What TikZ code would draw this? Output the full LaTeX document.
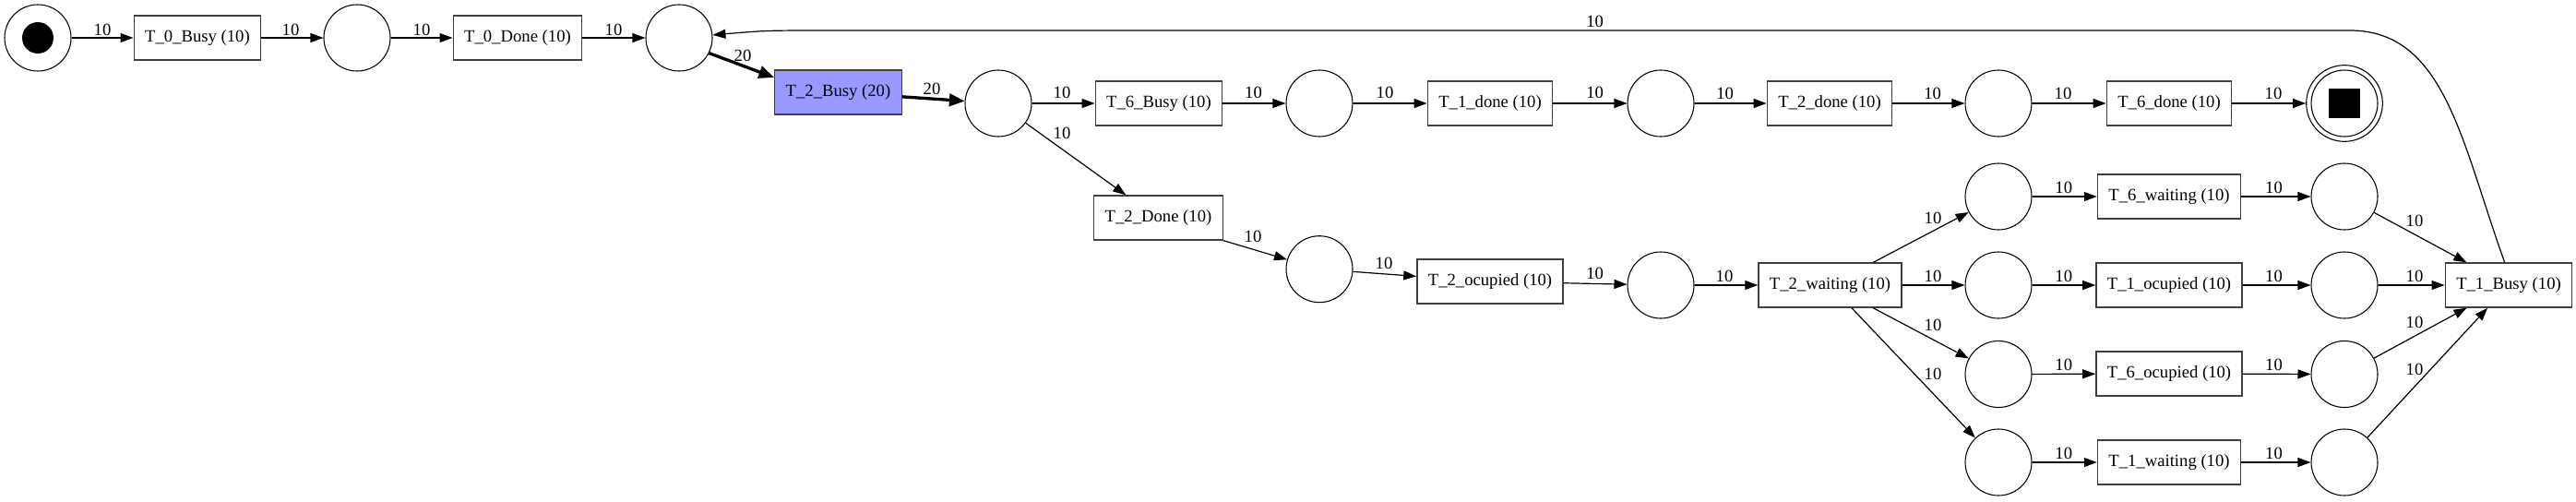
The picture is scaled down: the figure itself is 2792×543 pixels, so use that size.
\documentclass[tikz,border=0pt]{standalone}
\usepackage{fontspec}
\setmainfont{Liberation Serif}
\usetikzlibrary{arrows.meta}
\definecolor{busyfill}{HTML}{9999FF}
\begin{document}
\begin{tikzpicture}[x=0.75pt,y=-0.75pt,
  every node/.style={font=\fontsize{14pt}{16pt}\selectfont},
  place/.style={circle,draw=black,line width=0.8pt,minimum size=54pt,inner sep=0pt},
  trans/.style={rectangle,draw=black!75,line width=1pt,minimum width=101pt,minimum height=36pt,inner xsep=9pt,inner ysep=0pt},
  arc/.style={-{Triangle[length=10.5pt,width=7.5pt]},line width=0.9pt},
  heavy/.style={-{Triangle[length=12.5pt,width=10pt]},line width=2.5pt},
  lbl/.style={inner sep=0pt,anchor=center}
]
\useasboundingbox (0,0) rectangle (2792,543);

% places and transitions
\node[place] (start) at (41,41) {};
\node[circle,fill=black,minimum size=25.5pt,inner sep=0pt] (starttok) at (start) {};
\node[trans] (t0b) at (214,41) {T\_0\_Busy (10)};
\node[place] (p1) at (387,41) {};
\node[trans] (t0d) at (561,41) {T\_0\_Done (10)};
\node[place] (p3) at (736,41) {};
\node[trans,fill=busyfill] (t2b) at (908.5,100) {T\_2\_Busy (20)};
\node[place] (p4) at (1082,112) {};
\node[trans] (t6b) at (1256,112) {T\_6\_Busy (10)};
\node[place] (p5) at (1430,112) {};
\node[trans] (t1d) at (1615,112) {T\_1\_done (10)};
\node[place] (p6) at (1800,112) {};
\node[trans] (t2dn) at (1983,112) {T\_2\_done (10)};
\node[place] (p7) at (2166,112) {};
\node[trans] (t6d) at (2351,112) {T\_6\_done (10)};
\node[circle,draw=black,line width=0.8pt,minimum size=62pt,inner sep=0pt] (endp) at (2541,112) {};
\node[place] (endin) at (endp) {};
\node[rectangle,fill=black,minimum width=25.5pt,minimum height=24pt,inner sep=0pt] (endtok) at (endp) {};

\node[trans] (t2D) at (1255.5,236) {T\_2\_Done (10)};
\node[place] (p8) at (1430,291.7) {};
\node[trans] (t2o) at (1615,305) {T\_2\_ocupied (10)};
\node[place] (p9) at (1800,309) {};
\node[trans] (t2w) at (1983.5,309) {T\_2\_waiting (10)};

\node[place] (a1) at (2166,213) {};
\node[place] (a2) at (2166,309) {};
\node[place] (a3) at (2166,405.5) {};
\node[place] (a4) at (2166,501) {};
\node[trans] (t6w) at (2351,213) {T\_6\_waiting (10)};
\node[trans] (t1o) at (2351,309) {T\_1\_ocupied (10)};
\node[trans] (t6o) at (2351,405) {T\_6\_ocupied (10)};
\node[trans] (t1w) at (2351,501) {T\_1\_waiting (10)};
\node[place] (c1) at (2541,213) {};
\node[place] (c2) at (2541,309) {};
\node[place] (c3) at (2541,405.5) {};
\node[place] (c4) at (2541,501) {};
\node[trans] (t1b) at (2719,309) {T\_1\_Busy (10)};

% arcs, top row
\draw[arc] (start) -- (t0b) node[lbl] at (111,32) {10};
\draw[arc] (t0b) -- (p1) node[lbl] at (315,32) {10};
\draw[arc] (p1) -- (t0d) node[lbl] at (457,32) {10};
\draw[arc] (t0d) -- (p3) node[lbl] at (665,32) {10};
\draw[heavy] (p3.-27) -- (t2b.167) node[lbl] at (805,60) {20};
\draw[heavy] (t2b.-4) -- (p4) node[lbl] at (1010,96) {20};
\draw[arc] (p4) -- (t6b) node[lbl] at (1151,100) {10};
\draw[arc] (t6b) -- (p5) node[lbl] at (1358.5,100) {10};
\draw[arc] (p5) -- (t1d) node[lbl] at (1501,100) {10};
\draw[arc] (t1d) -- (p6) node[lbl] at (1728.6,100) {10};
\draw[arc] (p6) -- (t2dn) node[lbl] at (1869.6,101) {10};
\draw[arc] (t2dn) -- (p7) node[lbl] at (2094.7,101) {10};
\draw[arc] (p7) -- (t6d) node[lbl] at (2236,101) {10};
\draw[arc] (t6d) -- (endp) node[lbl] at (2464,101) {10};

% lower branch
\draw[arc] (p4) -- (t2D.145) node[lbl] at (1151,144) {10};
\draw[arc] (t2D.south east) -- (p8) node[lbl] at (1358,256.7) {10};
\draw[arc] (p8) -- (t2o.176) node[lbl] at (1500,285.7) {10};
\draw[arc] (t2o) -- (p9) node[lbl] at (1728.6,296.7) {10};
\draw[arc] (p9) -- (t2w) node[lbl] at (1869,299) {10};

\draw[arc] (t2w) -- (a1) node[lbl] at (2095,236.7) {10};
\draw[arc] (t2w) -- (a2) node[lbl] at (2095,299) {10};
\draw[arc] (t2w) -- (a3) node[lbl] at (2095,352) {10};
\draw[arc] (t2w) -- (a4) node[lbl] at (2095,405.7) {10};

\draw[arc] (a1) -- (t6w) node[lbl] at (2236.8,203.3) {10};
\draw[arc] (a2) -- (t1o) node[lbl] at (2236.8,299.3) {10};
\draw[arc] (a3) -- (t6o) node[lbl] at (2236.8,395.7) {10};
\draw[arc] (a4) -- (t1w) node[lbl] at (2236.8,491.7) {10};

\draw[arc] (t6w) -- (c1) node[lbl] at (2464.5,203.3) {10};
\draw[arc] (t1o) -- (c2) node[lbl] at (2464.5,299.3) {10};
\draw[arc] (t6o) -- (c3) node[lbl] at (2464.5,395.7) {10};
\draw[arc] (t1w) -- (c4) node[lbl] at (2464.5,491.7) {10};

\draw[arc] (c1) -- (t1b) node[lbl] at (2617,239) {10};
\draw[arc] (c2) -- (t1b) node[lbl] at (2617,299) {10};
\draw[arc] (c3) -- (t1b) node[lbl] at (2617,349) {10};
\draw[arc] (c4) -- (t1b) node[lbl] at (2617,400) {10};

% feedback arc
\coordinate (fbA) at (2547,33);
\coordinate (fbB) at (900,33);
\draw[arc] (t1b.100) .. controls (2668,155) and (2650,33) .. (fbA) -- (fbB) .. controls (830,33) .. (p3)
  node[lbl] at (1728.6,23) {10};
\end{tikzpicture}
\end{document}
